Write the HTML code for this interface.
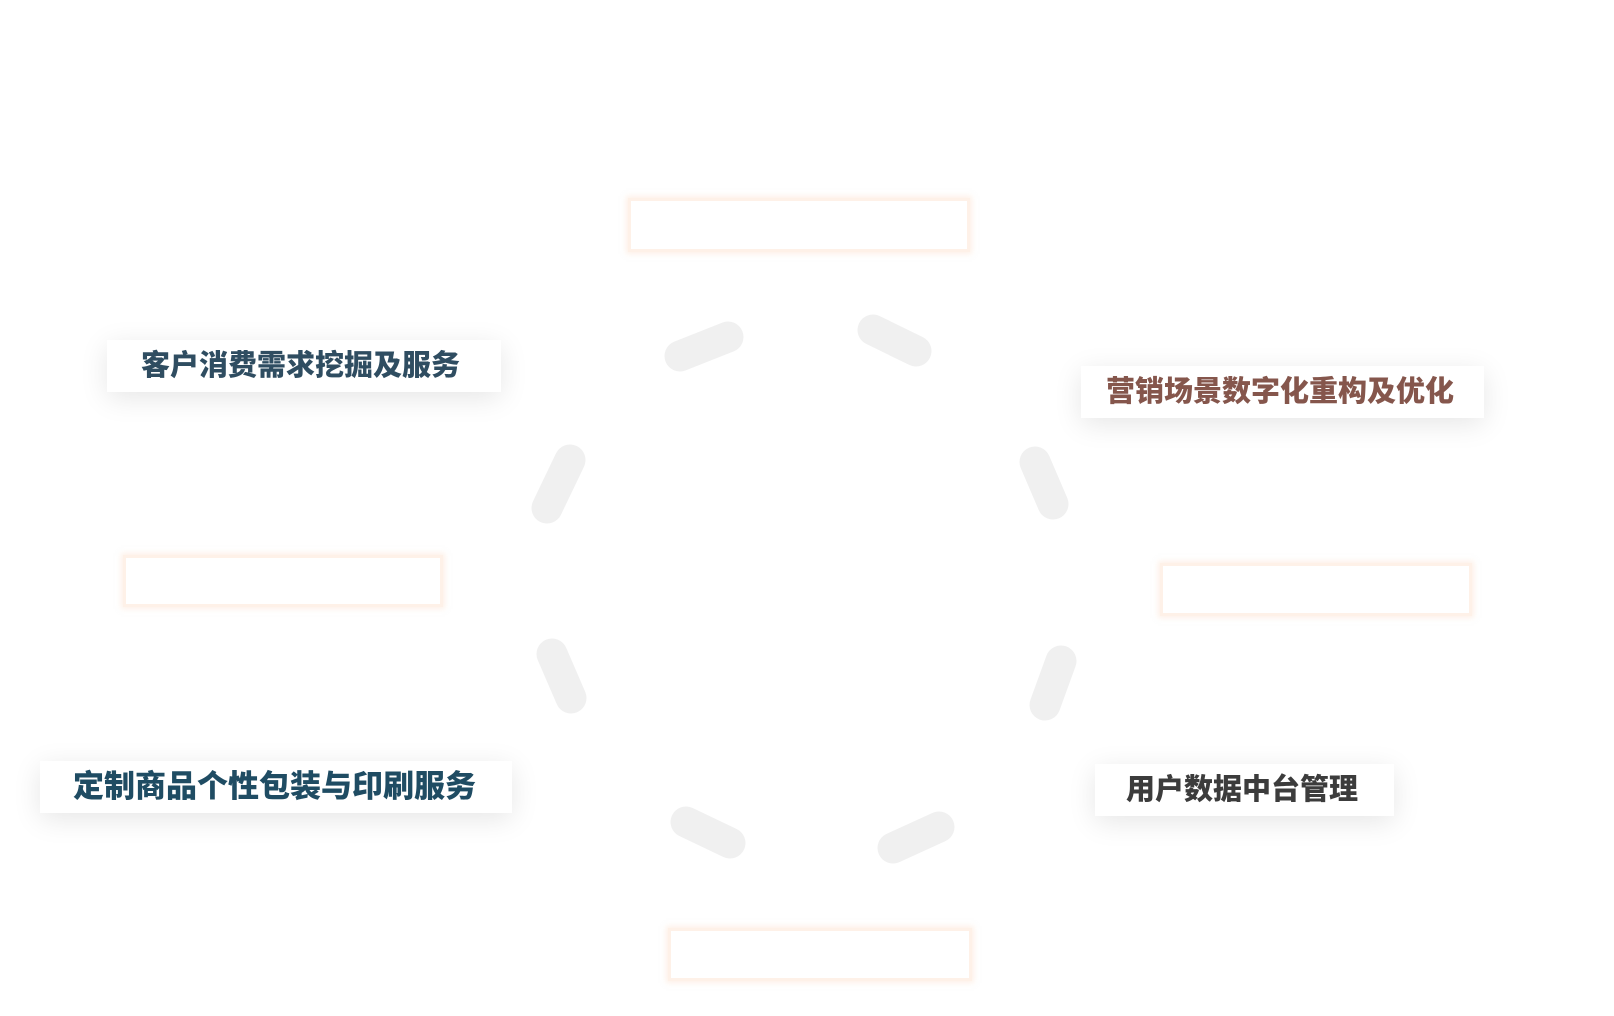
<!DOCTYPE html>
<html><head><meta charset="utf-8"><style>
html,body{margin:0;padding:0;background:#fff;}
body{width:1614px;height:1016px;position:relative;overflow:hidden;font-family:"Liberation Sans","Noto Sans CJK SC",sans-serif;}
.lab{position:absolute;background:#fff;box-shadow:0 6px 28px rgba(0,0,0,0.10);font-weight:900;font-size:29px;line-height:52px;white-space:nowrap;}
.ob{position:absolute;background:#fff;border:3px solid #fef1e8;box-shadow:0 0 5px 2px rgba(253,228,210,0.5);}
svg{position:absolute;left:0;top:0;}
</style></head><body>
<svg width="1614" height="1016" viewBox="0 0 1614 1016">
<g stroke="#f0f0f0" stroke-width="31" stroke-linecap="round" fill="none">
<line x1="680" y1="356" x2="728" y2="337"/>
<line x1="873" y1="330" x2="916" y2="351"/>
<line x1="547" y1="508" x2="570" y2="460"/>
<line x1="1035" y1="462" x2="1053" y2="504"/>
<line x1="552" y1="654" x2="571" y2="698"/>
<line x1="1061" y1="661" x2="1045" y2="705"/>
<line x1="686" y1="822" x2="730" y2="843"/>
<line x1="939" y1="827" x2="893" y2="848"/>
</g>
</svg>
<div class="ob" style="left:628px;top:198px;width:336px;height:48px;"></div>
<div class="ob" style="left:123px;top:555px;width:314px;height:46px;"></div>
<div class="ob" style="left:1160px;top:563px;width:306px;height:47px;"></div>
<div class="ob" style="left:668px;top:928px;width:298px;height:47px;"></div>
<div class="lab" style="left:107px;top:340px;width:394px;height:52px;color:#2f4d61;"><span style="padding-left:34px;">客户消费需求挖掘及服务</span></div>
<div class="lab" style="left:1081px;top:366px;width:403px;height:52px;color:#85564c;"><span style="padding-left:25px;">营销场景数字化重构及优化</span></div>
<div class="lab" style="left:40px;top:761px;width:472px;height:52px;color:#1f4c63;font-size:31px;"><span style="padding-left:33px;">定制商品个性包装与印刷服务</span></div>
<div class="lab" style="left:1095px;top:764px;width:299px;height:52px;color:#3c3c3c;"><span style="padding-left:31px;">用户数据中台管理</span></div>
</body></html>
